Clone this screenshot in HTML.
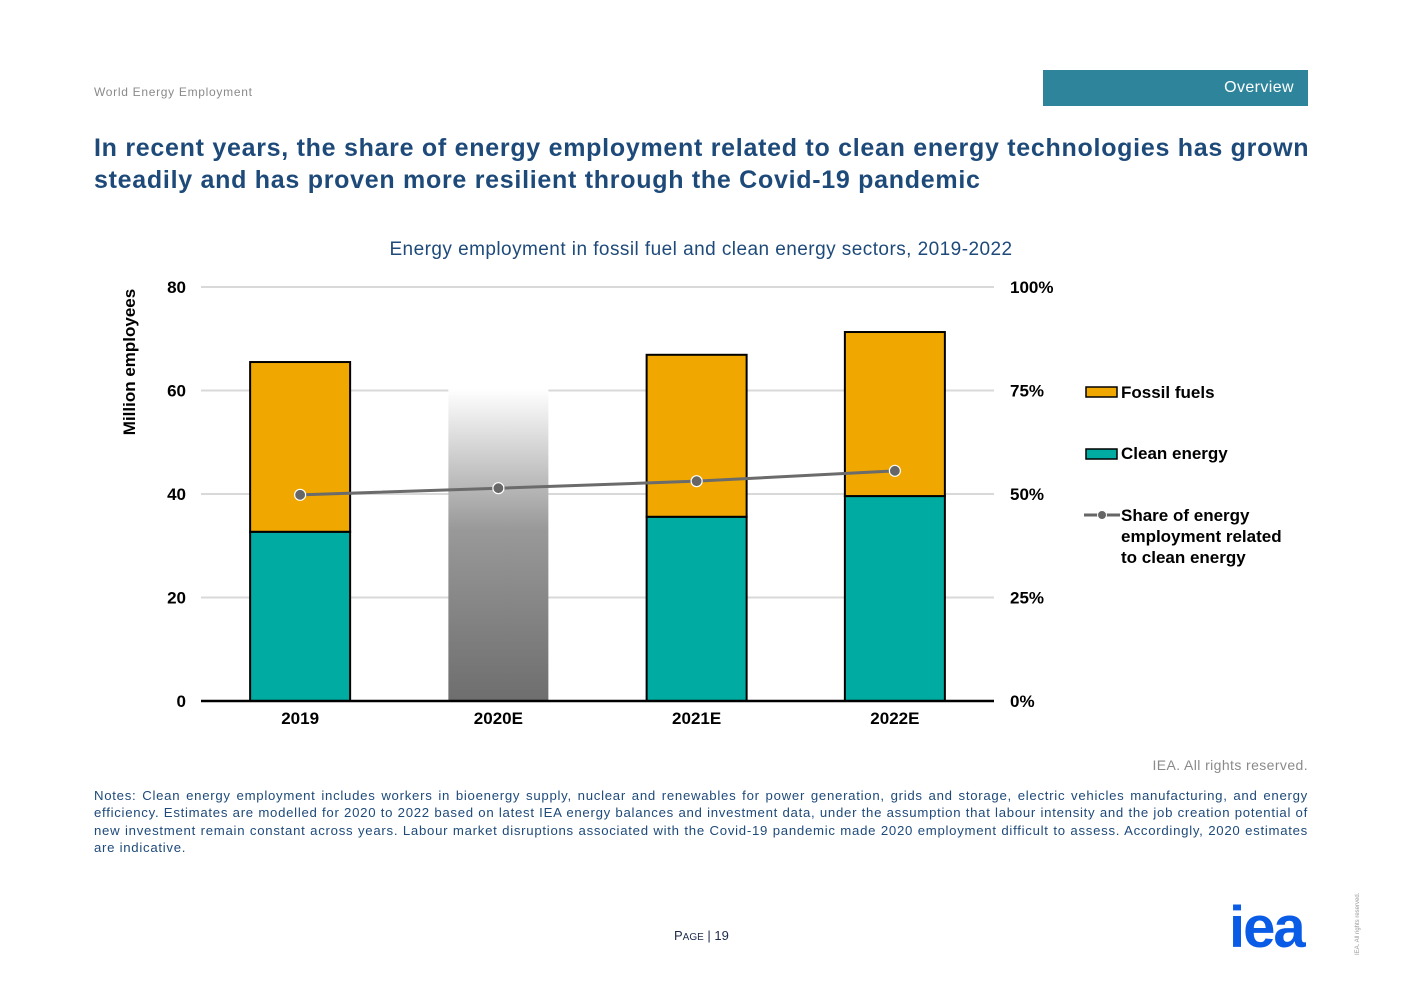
<!DOCTYPE html>
<html><head><meta charset="utf-8"><style>
body{margin:0;width:1403px;height:992px;background:#fff;font-family:"Liberation Sans",Arial,sans-serif;position:relative;overflow:hidden}
.abs{position:absolute}
</style></head><body>
<div class="abs" style="left:94px;top:85px;font-size:12px;color:#8a8a8a;letter-spacing:0.7px">World Energy Employment</div>
<div class="abs" style="left:1043px;top:70px;width:265px;height:36px;background:#2e859b;color:#fff;font-size:16px;line-height:36px;text-align:right;box-sizing:border-box;padding-right:14px;letter-spacing:0.4px">Overview</div>
<div class="abs" style="left:94px;top:132px;width:1230px;font-size:25px;font-weight:bold;color:#1e4a7a;line-height:32px;letter-spacing:0.72px">In recent years, the share of energy employment related to clean energy technologies has grown<br>steadily and has proven more resilient through the Covid-19 pandemic</div>
<svg class="abs" style="left:0;top:0" width="1403" height="992" id="chart">
<defs><linearGradient id="g" x1="0" y1="0" x2="0" y2="1"><stop offset="0" stop-color="#fff"/><stop offset="0.45" stop-color="#999"/><stop offset="1" stop-color="#6e6e6e"/></linearGradient></defs>
<text x="701" y="255" text-anchor="middle" font-size="19" fill="#1e4a7a" letter-spacing="0.45">Energy employment in fossil fuel and clean energy sectors, 2019-2022</text>
<text transform="translate(135,362) rotate(-90)" text-anchor="middle" font-size="17" font-weight="bold" fill="#000">Million employees</text>
<g id="grid"></g><g id="bars"></g><g id="line"></g>
<g font-size="17" font-weight="bold" fill="#000">
<rect x="1086" y="387" width="31" height="10" fill="#f0a800" stroke="#000" stroke-width="1.5"/><text x="1121" y="398">Fossil fuels</text>
<rect x="1086" y="449" width="31" height="10" fill="#00aca2" stroke="#000" stroke-width="1.5"/><text x="1121" y="459">Clean energy</text>
<line x1="1084" y1="515" x2="1120" y2="515" stroke="#666" stroke-width="3"/><circle cx="1102" cy="515" r="4.5" fill="#666" stroke="#fff" stroke-width="1"/>
<text x="1121" y="521">Share of energy</text><text x="1121" y="542">employment related</text><text x="1121" y="563">to clean energy</text>
</g>
</svg>
<div class="abs" style="right:95px;top:757px;font-size:14px;color:#8a8a8a;letter-spacing:0.4px">IEA. All rights reserved.</div>
<div class="abs" style="left:94px;top:787px;width:1214px;font-size:13.2px;color:#1e4a7a;line-height:17.3px;text-align:justify;letter-spacing:0.72px">Notes: Clean energy employment includes workers in bioenergy supply, nuclear and renewables for power generation, grids and storage, electric vehicles manufacturing, and energy efficiency. Estimates are modelled for 2020 to 2022 based on latest IEA energy balances and investment data, under the assumption that labour intensity and the job creation potential of new investment remain constant across years. Labour market disruptions associated with the Covid-19 pandemic made 2020 employment difficult to assess. Accordingly, 2020 estimates are indicative.</div>
<div class="abs" style="left:674px;top:928px;font-size:13px;color:#1e2a4a">P<span style="font-size:10px">AGE</span> | 19</div>
<div class="abs" style="left:1229px;top:898px;font-size:58px;font-weight:bold;color:#0a5ce6;letter-spacing:-2px;line-height:60px">iea</div>
<div class="abs" style="left:1355px;top:955px;font-size:6px;color:#999;transform:rotate(-90deg);transform-origin:0 0;white-space:nowrap">IEA. All rights reserved.</div>
<script>
const categories=["2019","2020E","2021E","2022E"];
const clean=[32.7,null,35.6,39.6];
const fossil=[32.8,null,31.3,31.7];
const indicativeTotal=[null,60.3,null,null];
const share=[49.8,51.4,53.1,55.6];
const leftTicks=[0,20,40,60,80];
const rightTicks=["0%","25%","50%","75%","100%"];
const NS="http://www.w3.org/2000/svg";
const X0=201,X1=994,Y0=701,Y1=287;
const bw=(X1-X0)/categories.length;
const xc=i=>X0+bw*(i+0.5);
const yL=v=>Y0-(v/80)*(Y0-Y1);
const yR=p=>Y0-(p/100)*(Y0-Y1);
function mk(tag,attrs,parent){const e=document.createElementNS(NS,tag);for(const k in attrs)e.setAttribute(k,attrs[k]);document.getElementById(parent).appendChild(e);return e;}
leftTicks.forEach((t,i)=>{
 const y=yL(t);
 if(t>0){const l=mk("line",{x1:X0,x2:X1,y1:y,y2:y,stroke:"#d9d9d9","stroke-width":2},"grid");
 
 }
 const a=mk("text",{x:186,y:y+6,"text-anchor":"end","font-size":17,"font-weight":"bold"},"grid");a.textContent=t;
 
 
 const b=mk("text",{x:1010,y:y+6,"font-size":17,"font-weight":"bold"},"grid");b.textContent=rightTicks[i];
 
 
});
categories.forEach((c,i)=>{
 const x=xc(i)-50;
 if(indicativeTotal[i]!=null){
  const r=mk("rect",{x:x,y:yL(indicativeTotal[i]),width:100,height:Y0-yL(indicativeTotal[i]),fill:"url(#g)"},"bars");
  
  
 } else {
  const r1=mk("rect",{x:x,y:yL(clean[i]),width:100,height:Y0-yL(clean[i]),fill:"#00aca2",stroke:"#000","stroke-width":2},"bars");
  
  
  const t=clean[i]+fossil[i];
  const r2=mk("rect",{x:x,y:yL(t),width:100,height:yL(clean[i])-yL(t),fill:"#f0a800",stroke:"#000","stroke-width":2},"bars");
  
  
 }
 const tx=mk("text",{x:xc(i),y:724,"text-anchor":"middle","font-size":17,"font-weight":"bold"},"bars");tx.textContent=c;
 
 
});
const ax=mk("line",{x1:X0,x2:X1,y1:Y0,y2:Y0,stroke:"#000","stroke-width":2.5},"bars");


const pl=mk("polyline",{points:share.map((s,i)=>xc(i)+","+yR(s)).join(" "),fill:"none",stroke:"#6b6b6b","stroke-width":3},"line");


share.forEach((s,i)=>{
 const c=mk("circle",{cx:xc(i),cy:yR(s),r:5.5,fill:"#666",stroke:"#fff","stroke-width":1.2},"line");
 
 
});
</script>
</body></html>
